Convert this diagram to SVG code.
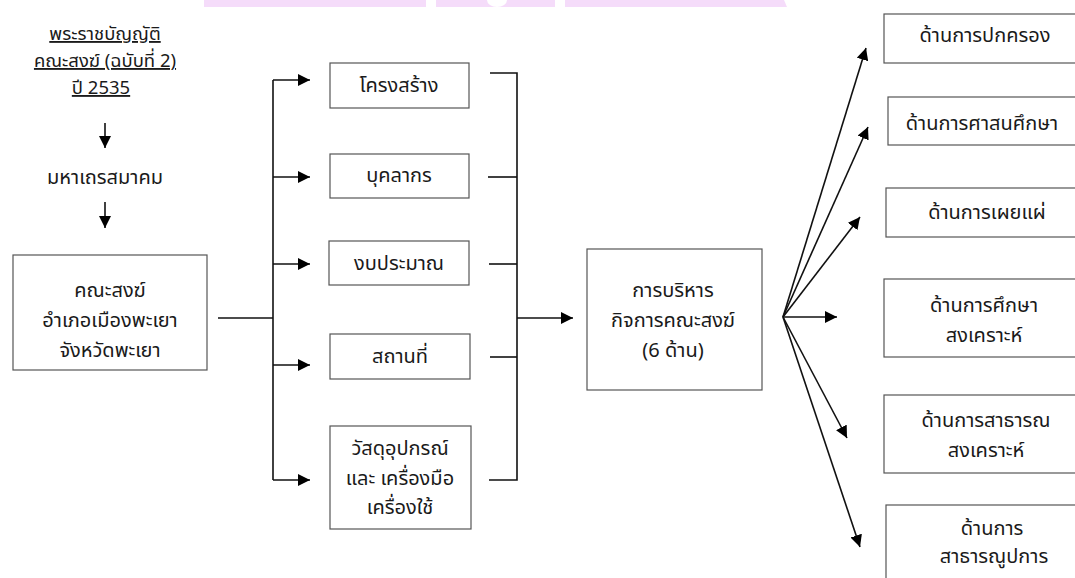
<svg xmlns="http://www.w3.org/2000/svg" width="1075" height="578" viewBox="0 0 1075 578">
<style>
text{font-family:"Noto Sans Thai","Noto Sans","Liberation Sans",sans-serif;font-size:20px;fill:#1a1a1a;text-anchor:middle}
.box{fill:#fff;stroke:#555;stroke-width:1.2}
.ln{fill:none;stroke:#111;stroke-width:1.6}
.u{text-decoration:underline;font-size:18.5px}
.wm{fill:#f5dcfa}
</style>
<defs>
<marker id="ah" markerUnits="userSpaceOnUse" markerWidth="14" markerHeight="12" refX="12" refY="6" orient="auto">
<path d="M0,0 L12,6 L0,12 Z" fill="#000"/>
</marker>
</defs>
<g id="watermark">
<rect class="wm" x="204" y="0" width="222" height="7"/>
<path class="wm" d="M436,0 H555 V7 H436 Z"/>
<path d="M487,0 A10,7 0 0 0 507,0 Z" fill="#fff"/>
<path class="wm" d="M565,0 H784 L787,7 H565 Z"/>
</g>
<g id="connectors">
<line class="ln" x1="105" y1="123" x2="105" y2="148" marker-end="url(#ah)"/>
<line class="ln" x1="105" y1="202" x2="105" y2="228" marker-end="url(#ah)"/>
<path class="ln" d="M218,318 H273"/>
<path class="ln" d="M273,80 V480"/>
<line class="ln" x1="273" y1="80" x2="310" y2="80" marker-end="url(#ah)"/>
<line class="ln" x1="273" y1="177" x2="310" y2="177" marker-end="url(#ah)"/>
<line class="ln" x1="273" y1="264" x2="310" y2="264" marker-end="url(#ah)"/>
<line class="ln" x1="273" y1="365" x2="310" y2="365" marker-end="url(#ah)"/>
<line class="ln" x1="273" y1="480" x2="310" y2="480" marker-end="url(#ah)"/>
<path class="ln" d="M490,73 H517 V480 H489"/>
<path class="ln" d="M488,177 H517"/>
<path class="ln" d="M489,264 H517"/>
<path class="ln" d="M490,357 H517"/>
<line class="ln" x1="517" y1="318" x2="573" y2="318" marker-end="url(#ah)"/>
<line class="ln" x1="783" y1="317" x2="866" y2="48" marker-end="url(#ah)"/>
<line class="ln" x1="783" y1="317" x2="868" y2="127" marker-end="url(#ah)"/>
<line class="ln" x1="783" y1="317" x2="860" y2="217" marker-end="url(#ah)"/>
<line class="ln" x1="783" y1="317" x2="837" y2="317" marker-end="url(#ah)"/>
<line class="ln" x1="783" y1="317" x2="847" y2="438" marker-end="url(#ah)"/>
<line class="ln" x1="783" y1="317" x2="860" y2="547" marker-end="url(#ah)"/>
</g>
<g id="act">
<text class="u" x="105" y="40">พระราชบัญญัติ</text>
<text class="u" x="105" y="67">คณะสงฆ์ (ฉบับที่ 2)</text>
<text class="u" x="101" y="94">ปี 2535</text>
</g>
<g id="mahathera">
<text x="105" y="184">มหาเถรสมาคม</text>
</g>
<g id="sangha">
<rect class="box" x="13" y="255" width="194" height="115"/>
<text x="110" y="297">คณะสงฆ์</text>
<text x="110" y="327">อำเภอเมืองพะเยา</text>
<text x="110" y="357">จังหวัดพะเยา</text>
</g>
<g id="structure">
<rect class="box" x="330" y="63" width="139" height="45"/>
<text x="399" y="92">โครงสร้าง</text>
</g>
<g id="personnel">
<rect class="box" x="330" y="154" width="139" height="44"/>
<text x="399" y="182">บุคลากร</text>
</g>
<g id="budget">
<rect class="box" x="329" y="241" width="140" height="44"/>
<text x="399" y="270">งบประมาณ</text>
</g>
<g id="place">
<rect class="box" x="330" y="334" width="140" height="45"/>
<text x="400" y="363">สถานที่</text>
</g>
<g id="equipment">
<rect class="box" x="330" y="426" width="141" height="103"/>
<text x="400" y="455">วัสดุอุปกรณ์</text>
<text x="400" y="485">และ เครื่องมือ</text>
<text x="400" y="514">เครื่องใช้</text>
</g>
<g id="admin">
<rect class="box" x="587" y="249" width="175" height="141"/>
<text x="673" y="297">การบริหาร</text>
<text x="673" y="327">กิจการคณะสงฆ์</text>
<text x="673" y="357">(6 ด้าน)</text>
</g>
<g id="gov">
<rect class="box" x="884" y="14" width="200" height="49"/>
<text x="985" y="42">ด้านการปกครอง</text>
</g>
<g id="religion">
<rect class="box" x="888" y="97" width="200" height="48"/>
<text x="982" y="130">ด้านการศาสนศึกษา</text>
</g>
<g id="propagation">
<rect class="box" x="886" y="188" width="200" height="49"/>
<text x="987" y="219">ด้านการเผยแผ่</text>
</g>
<g id="education">
<rect class="box" x="884" y="279" width="200" height="78"/>
<text x="984" y="312">ด้านการศึกษา</text>
<text x="984" y="342">สงเคราะห์</text>
</g>
<g id="welfare">
<rect class="box" x="884" y="395" width="200" height="78"/>
<text x="986" y="427">ด้านการสาธารณ</text>
<text x="986" y="457">สงเคราะห์</text>
</g>
<g id="public">
<rect class="box" x="886" y="505" width="200" height="90"/>
<text x="992" y="535">ด้านการ</text>
<text x="994" y="563">สาธารณูปการ</text>
</g>
</svg>
